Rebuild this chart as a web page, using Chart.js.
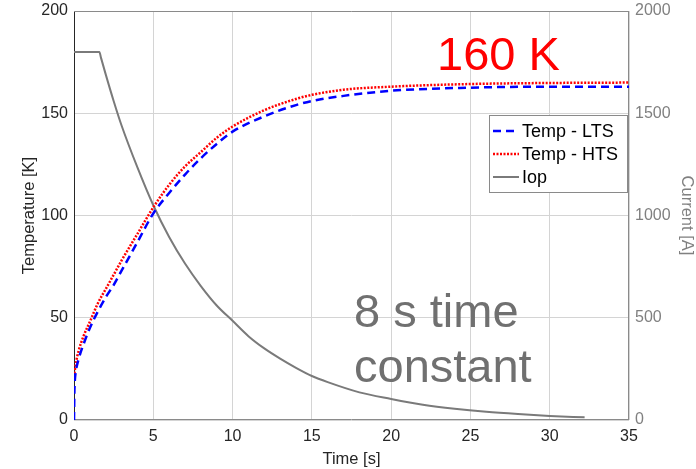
<!DOCTYPE html>
<html><head><meta charset="utf-8">
<script src="https://cdn.jsdelivr.net/npm/chart.js@4"></script>
<style>html,body{margin:0;padding:0;background:#fff}#wrap{width:696px;height:469px;position:relative}</style>
</head><body><div id="wrap"><canvas id="c"></canvas></div>
<script>
const xTicks = [0, 5, 10, 15, 20, 25, 30, 35];
const leftTicks = [0, 50, 100, 150, 200];
const rightTicks = [0, 500, 1000, 1500, 2000];

const ltsTime = [0, 0.02, 0.05, 0.1, 0.3, 0.6, 1, 1.5, 2, 2.5, 3, 4, 5, 6, 7, 8, 9, 10, 12, 14, 15, 17, 20, 25, 30, 35];
const ltsTemp = [0, 12, 19, 23, 30, 37, 45, 53, 60, 66, 73, 87, 101, 111, 120, 128, 135, 141, 148.5, 154, 156, 158.5, 161, 162.5, 163, 163];

const htsTime = [0, 0.1, 0.3, 0.6, 1, 1.5, 2, 2.5, 3, 4, 5, 6, 7, 8, 9, 10, 12, 14, 15, 17, 20, 25, 30, 35];
const htsTemp = [21, 27, 34, 41, 48, 57, 64, 71, 78, 91, 104, 115, 124, 131, 138, 143.5, 151.5, 157, 159, 161.5, 163, 164.3, 164.8, 165];

const iopTime = [0, 1.6, 1.7, 2, 2.5, 3, 4, 5, 6, 7, 8, 9, 10, 11, 12, 13, 14, 15, 16, 18, 20, 22, 24, 26, 28, 30, 32.2];
const iopCurr = [1800, 1800, 1772, 1690, 1560, 1440, 1235, 1050, 895, 765, 655, 560, 485, 410, 350, 300, 255, 215, 185, 135, 103, 75, 55, 40, 29, 20, 13];

const seriesNames = ["Temp - LTS", "Temp - HTS", "Iop"];
const note1 = "160 K";
const note2 = ["8 s time", "constant"];

const FONT = "'Liberation Sans', Arial, sans-serif";
const toXY = (xs, ys) => xs.map((x, i) => ({x: x, y: ys[i]}));

const overlay = {
  id: 'overlay',
  beforeDatasetsDraw(chart) {
    const {ctx, chartArea: a} = chart;
    ctx.save();
    ctx.lineWidth = 1;
    ctx.strokeStyle = '#262626';
    ctx.beginPath(); ctx.moveTo(a.left + 0.5, a.top); ctx.lineTo(a.left + 0.5, a.bottom); ctx.stroke();
    ctx.strokeStyle = '#8a8a8a';
    ctx.beginPath();
    ctx.moveTo(a.left, a.top + 0.5); ctx.lineTo(a.right, a.top + 0.5);
    ctx.moveTo(a.right - 0.5, a.top); ctx.lineTo(a.right - 0.5, a.bottom);
    ctx.moveTo(a.left, a.bottom - 0.5); ctx.lineTo(a.right, a.bottom - 0.5);
    ctx.stroke();
    ctx.restore();
  },
  afterDraw(chart) {
    const {ctx} = chart;
    ctx.save();
    ctx.textAlign = 'left';
    ctx.textBaseline = 'alphabetic';
    ctx.fillStyle = '#ff0000';
    ctx.font = '47px ' + FONT;
    ctx.fillText(note1, 437, 70);
    ctx.fillStyle = '#707070';
    ctx.font = '47px ' + FONT;
    ctx.fillText(note2[0], 354, 327);
    ctx.fillText(note2[1], 354, 382);
    // legend
    const lx = 489, ly = 115, lw = 138, lh = 77;
    ctx.fillStyle = '#ffffff';
    ctx.fillRect(lx, ly, lw, lh);
    ctx.strokeStyle = '#8a8a8a';
    ctx.lineWidth = 1;
    ctx.strokeRect(lx + 0.5, ly + 0.5, lw, lh);
    ctx.font = '18px ' + FONT;
    ctx.fillStyle = '#000000';
    ctx.textBaseline = 'middle';
    const ds = chart.data.datasets;
    for (let i = 0; i < ds.length; i++) {
      const yy = ly + 16 + i * 23;
      ctx.save();
      ctx.strokeStyle = ds[i].borderColor;
      ctx.lineWidth = ds[i].borderWidth;
      ctx.setLineDash(ds[i].borderDash || []);
      ctx.beginPath(); ctx.moveTo(lx + 4, yy); ctx.lineTo(lx + 30, yy); ctx.stroke();
      ctx.restore();
      ctx.fillText(ds[i].label, lx + 33, yy + 1);
    }
    ctx.restore();
  }
};

const noVPad = s => { s.paddingTop = 0; s.paddingBottom = 0; };

new Chart(document.getElementById('c'), {
  type: 'line',
  data: {
    datasets: [
      {label: seriesNames[0], data: toXY(ltsTime, ltsTemp), yAxisID: 'y', borderColor: '#0000ff', borderWidth: 2.5, borderDash: [8, 5], pointRadius: 0, cubicInterpolationMode: 'monotone'},
      {label: seriesNames[1], data: toXY(htsTime, htsTemp), yAxisID: 'y', borderColor: '#ff0000', borderWidth: 2.5, borderDash: [2, 1.5], pointRadius: 0, cubicInterpolationMode: 'monotone'},
      {label: seriesNames[2], data: toXY(iopTime, iopCurr), yAxisID: 'y2', borderColor: '#7a7a7a', borderWidth: 2, pointRadius: 0, cubicInterpolationMode: 'monotone'}
    ]
  },
  options: {
    responsive: true, maintainAspectRatio: false, animation: false, devicePixelRatio: 1,
    layout: {padding: {top: 11, left: 0, right: 0, bottom: 0}},
    plugins: {legend: {display: false}, tooltip: {enabled: false}},
    scales: {
      x: {
        type: 'linear', min: 0, max: 35,
        afterBuildTicks: s => { s.ticks = xTicks.map(v => ({value: v})); },
        afterFit: s => { s.height = 49; },
        grid: {color: '#d4d4d4', drawTicks: false},
        border: {display: false},
        ticks: {color: '#262626', font: {family: FONT, size: 16}, padding: 7, maxRotation: 0},
        title: {display: true, text: 'Time [s]', color: '#262626', font: {family: FONT, size: 16.5}, padding: {top: 0, bottom: 0}}
      },
      y: {
        position: 'left', min: 0, max: 200,
        afterBuildTicks: s => { s.ticks = leftTicks.map(v => ({value: v})); },
        afterFit: s => { s.width = 74; noVPad(s); },
        grid: {color: '#d4d4d4', drawTicks: false},
        border: {display: false},
        ticks: {color: '#262626', font: {family: FONT, size: 16}, padding: 6},
        title: {display: true, text: 'Temperature [K]', color: '#262626', font: {family: FONT, size: 16.5}, padding: {top: 20, bottom: 0}}
      },
      y2: {
        position: 'right', min: 0, max: 2000,
        afterBuildTicks: s => { s.ticks = rightTicks.map(v => ({value: v})); },
        afterFit: s => { s.width = 67; noVPad(s); },
        grid: {display: false, drawTicks: false},
        border: {display: false},
        ticks: {color: '#808080', font: {family: FONT, size: 16}, padding: 6, callback: v => String(v)},
        title: {display: true, text: 'Current [A]', color: '#808080', font: {family: FONT, size: 16.5}, padding: {top: 0, bottom: 6}}
      }
    }
  },
  plugins: [overlay]
});
</script></body></html>
